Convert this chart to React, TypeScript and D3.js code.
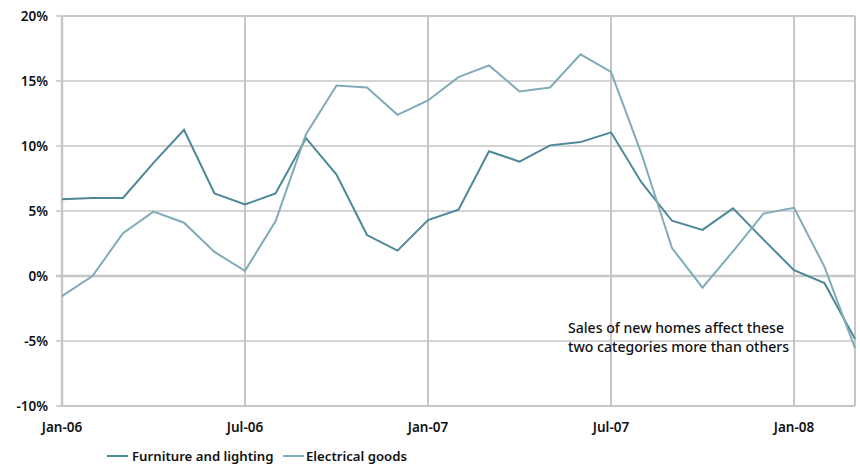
import React from "react";
import * as d3 from "d3";

// Monthly year-on-year sales growth, Jan-06 to Mar-08 (%)
const months: string[] = [
  "Jan-06", "Feb-06", "Mar-06", "Apr-06", "May-06", "Jun-06", "Jul-06", "Aug-06", "Sep-06",
  "Oct-06", "Nov-06", "Dec-06", "Jan-07", "Feb-07", "Mar-07", "Apr-07", "May-07", "Jun-07",
  "Jul-07", "Aug-07", "Sep-07", "Oct-07", "Nov-07", "Dec-07", "Jan-08", "Feb-08", "Mar-08",
];

const furniture: number[] = [
  5.9, 6.0, 6.0, 8.7, 11.25, 6.35, 5.5, 6.35, 10.6,
  7.8, 3.15, 1.95, 4.3, 5.1, 9.6, 8.8, 10.05, 10.3,
  11.05, 7.2, 4.25, 3.55, 5.2, 2.8, 0.45, -0.55, -4.85,
];

const electrical: number[] = [
  -1.55, 0.0, 3.3, 4.95, 4.1, 1.85, 0.4, 4.2, 10.9,
  14.65, 14.5, 12.4, 13.5, 15.3, 16.2, 14.2, 14.5, 17.05,
  15.7, 9.4, 2.15, -0.9, 1.9, 4.8, 5.25, 0.7, -5.55,
];

const yTicks: number[] = [-10, -5, 0, 5, 10, 15, 20];
const xTickLabels: string[] = ["Jan-06", "Jul-06", "Jan-07", "Jul-07", "Jan-08"];

const seriesNames: string[] = ["Furniture and lighting", "Electrical goods"];
const seriesColors: string[] = ["#4d8799", "#80abb9"];

const note: string[] = ["Sales of new homes affect these", "two categories more than others"];

const W = 860;
const H = 464;
const left = 62;
const right = 855;
const top = 16;
const bottom = 406;
const grid = "#c6c6c6";
const font = "'Noto Sans', 'DejaVu Sans', sans-serif";

export default function App() {
  const x = d3.scaleLinear().domain([0, months.length - 1]).range([left, right]);
  const y = d3.scaleLinear().domain([-10, 20]).range([bottom, top]);

  const line = d3
    .line<number>()
    .x((_, i) => x(i))
    .y((v) => y(v));

  const series = [furniture, electrical];

  return (
    <svg
      width={W}
      height={H}
      style={{ position: "absolute", left: 0, top: 0, background: "#fff" }}
      fontFamily={font}
    >
      {/* horizontal gridlines and left ticks */}
      {yTicks.map((t) => (
        <g key={"h" + t}>
          <line
            x1={left - 6}
            x2={right}
            y1={y(t)}
            y2={y(t)}
            stroke={grid}
            strokeWidth={t === 0 ? 2.5 : 1.5}
          />
          <text
            x={48}
            y={y(t)}
            dy="0.36em"
            textAnchor="end"
            fontSize={13.5}
            fontWeight={600}
            fill="#111"
          >
            {t + "%"}
          </text>
        </g>
      ))}

      {/* half-yearly vertical gridlines */}
      {xTickLabels.map((lab, k) => {
        const xi = x(months.indexOf(lab));
        return (
          <g key={lab}>
            {k > 0 && (
              <line x1={xi} x2={xi} y1={top} y2={bottom} stroke={grid} strokeWidth={2} />
            )}
            <line x1={xi} x2={xi} y1={y(0)} y2={y(0) + 5} stroke={grid} strokeWidth={2} />
            <text
              x={xi}
              y={432}
              textAnchor="middle"
              fontSize={13.5}
              fontWeight={600}
              fill="#111"
            >
              {lab}
            </text>
          </g>
        );
      })}

      {/* frame */}
      <line x1={right} x2={right} y1={top} y2={bottom} stroke={grid} strokeWidth={2} />
      <line x1={left} x2={right} y1={bottom} y2={bottom} stroke={grid} strokeWidth={2} />
      <line x1={left} x2={right} y1={top} y2={top} stroke={grid} strokeWidth={2} />
      <line x1={left} x2={left} y1={top} y2={bottom} stroke={grid} strokeWidth={2.5} />

      {/* series */}
      {series.map((s, i) => (
        <path
          key={seriesNames[i]}
          d={line(s) || ""}
          fill="none"
          stroke={seriesColors[i]}
          strokeWidth={2}
          strokeLinejoin="miter"
        />
      ))}

      {/* annotation */}
      <text x={568} y={333} fontSize={14.1} fontWeight={500} fill="#111">
        {note.map((t, i) => (
          <tspan key={i} x={568} dy={i === 0 ? 0 : 18.5}>
            {t}
          </tspan>
        ))}
      </text>

      {/* legend */}
      {[
        { lx: 107, tx: 132 },
        { lx: 283, tx: 306 },
      ].map((p, i) => (
        <g key={"lg" + i}>
          <line
            x1={p.lx}
            x2={p.lx + 21}
            y1={456}
            y2={456}
            stroke={seriesColors[i]}
            strokeWidth={2}
          />
          <text x={p.tx} y={456} dy="0.36em" fontSize={13.2} fontWeight={600} fill="#111">
            {seriesNames[i]}
          </text>
        </g>
      ))}
    </svg>
  );
}
